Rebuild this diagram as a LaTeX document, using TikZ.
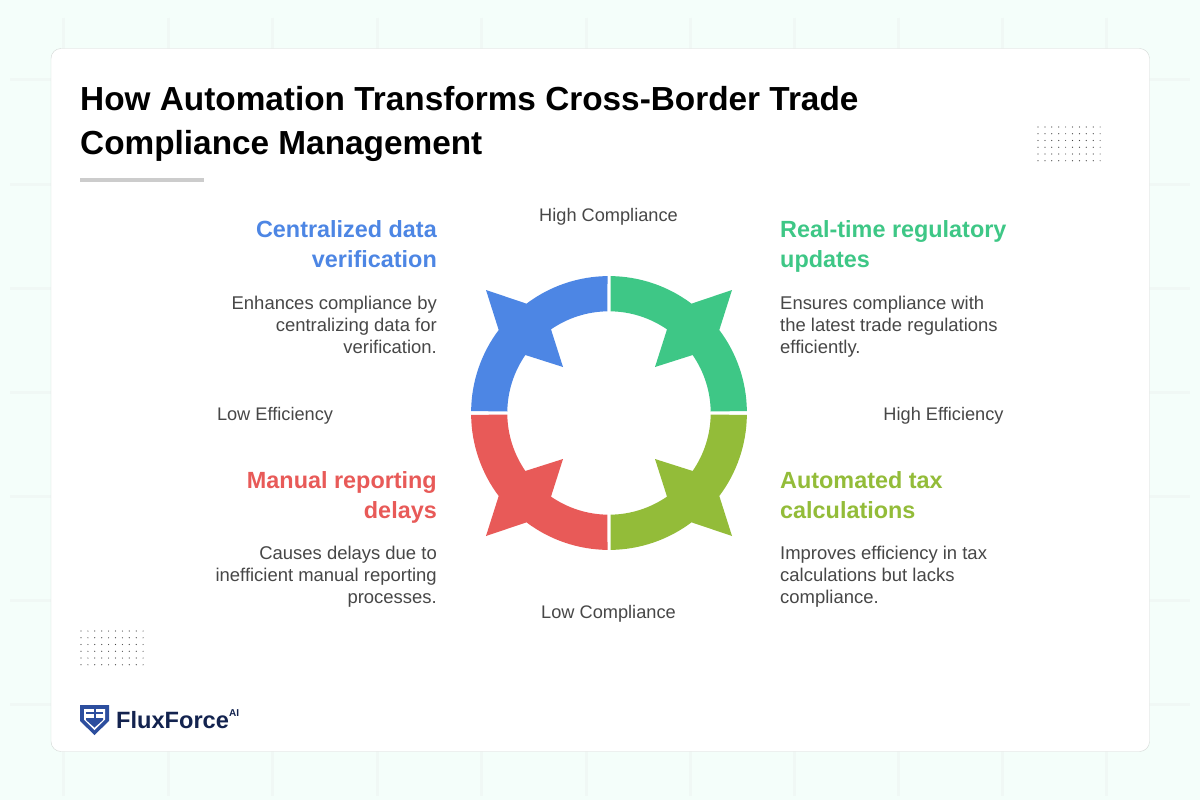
\documentclass[tikz,border=0pt]{standalone}
\usepackage{fontspec}
\setmainfont{Liberation Sans}
\definecolor{pagebg}{HTML}{F4FEFA}
\definecolor{gridline}{HTML}{F0F8F5}
\definecolor{cardline}{HTML}{D4D8D6}
\definecolor{rulegray}{HTML}{CCCCCC}
\definecolor{bodygray}{HTML}{474747}
\definecolor{dotgray}{HTML}{444444}
\definecolor{segblue}{HTML}{4D86E4}
\definecolor{seggreen}{HTML}{3EC786}
\definecolor{segolive}{HTML}{93BC39}
\definecolor{segred}{HTML}{E85A58}
\definecolor{logonavy}{HTML}{13234F}
\definecolor{logoblue}{HTML}{2C4E9E}
\tikzset{
    titletext/.style={anchor=north west, align=left, text=black, font=\fontsize{33.35}{44}\selectfont\bfseries},
    headtext/.style={font=\fontsize{23.4}{29.5}\selectfont\bfseries},
    bodytext/.style={text=bodygray, font=\fontsize{18.45}{22}\selectfont},
    axistext/.style={text=bodygray, font=\fontsize{18.2}{22}\selectfont},
    leftside/.style={anchor=north east, align=right, inner sep=0pt},
    rightside/.style={anchor=north west, align=left, inner sep=0pt},
}
% one arm of the ring, drawn for the upper right and mirrored for the others
\newcommand{\ringarm}[3]{
    \begin{scope}[shift={(609,413)}, xscale=#1, yscale=#2]
        \fill[#3] (1.5,136.9) arc[start angle=89.4, end angle=53, radius=137]
            -- (123,123) -- (110.3,83)
            arc[start angle=37, end angle=0.6, radius=137]
            -- (101.7,1.5) arc[start angle=0.8, end angle=34.7, radius=101.7]
            -- (46,46) -- (58,83.6)
            arc[start angle=55.3, end angle=89.2, radius=101.7] -- cycle;
    \end{scope}
}
\newcommand{\dotpatch}[2]{
    \foreach \col in {0,...,9}
        \foreach \row in {0,...,5}
            \fill[dotgray] (#1+6.9*\col,#2+6.75*\row) circle (0.6);
}
\begin{document}
\begin{tikzpicture}[x=1pt,y=-1pt]
    \useasboundingbox (0,0) rectangle (1200,800);
    \fill[pagebg] (0,0) rectangle (1200,800);

    % faint grid behind the card
    \foreach \gx in {63,168,272,377,481,586,690,794,898,1002,1106}
        \draw[gridline, line width=3] (\gx,18) -- (\gx,796);
    \foreach \gy in {80,184,288,392,496,600,704}
        \draw[gridline, line width=3] (10,\gy) -- (1190,\gy);

    \draw[cardline, fill=white, rounded corners=10] (51,48.5) rectangle (1149.5,751.5);

    \node[titletext, inner sep=0pt] (title) at (80,86) {How Automation Transforms Cross-Border Trade\\Compliance Management};
    \fill[rulegray] (80,177.5) rectangle (204,181.5);

    \dotpatch{1038}{127}
    \dotpatch{81}{631}

    \ringarm{1}{-1}{seggreen}
    \ringarm{-1}{-1}{segblue}
    \ringarm{1}{1}{segolive}
    \ringarm{-1}{1}{segred}

    \node[axistext] (highcomp) at (608.5,216.5) {High Compliance};
    \node[axistext] (lowcomp)  at (608.5,614) {Low Compliance};
    \node[axistext] (loweff)   at (275,415.5) {Low Efficiency};
    \node[axistext] (higheff)  at (943.5,415.5) {High Efficiency};

    \node[headtext, leftside, text=segblue] (headblue) at (437,220.5) {Centralized data\\verification};
    \node[bodytext, leftside] (bodyblue) at (437,296) {Enhances compliance by\\centralizing data for\\verification.};

    \node[headtext, rightside, text=seggreen] (headgreen) at (780,220.5) {Real-time regulatory\\updates};
    \node[bodytext, rightside] (bodygreen) at (780,296) {Ensures compliance with\\the latest trade regulations\\efficiently.};

    \node[headtext, leftside, text=segred] (headred) at (437,471.5) {Manual reporting\\delays};
    \node[bodytext, leftside] (bodyred) at (437,546) {Causes delays due to\\inefficient manual reporting\\processes.};

    \node[headtext, rightside, text=segolive] (headolive) at (780,471.5) {Automated tax\\calculations};
    \node[bodytext, rightside] (bodyolive) at (780,546) {Improves efficiency in tax\\calculations but lacks\\compliance.};

    % logo
    \fill[logoblue] (80,705) -- (109,705) -- (109,721) -- (94.5,735) -- (80,721) -- cycle;
    \fill[white] (84,709) -- (105,709) -- (105,719.5) -- (94.5,730) -- (84,719.5) -- cycle;
    \fill[logoblue] (86,712) rectangle (103,714);
    \fill[logoblue] (86,718) -- (103,718) -- (103,720) -- (94.5,727.5) -- (86,720) -- cycle;
    \fill[logoblue] (93.5,709) rectangle (95.5,719);
    \node[anchor=base west, inner sep=0pt, text=logonavy, font=\fontsize{23.6}{26}\selectfont\bfseries] (logoname) at (116,728) {FluxForce};
    \node[anchor=base west, inner sep=0pt, text=logonavy, font=\fontsize{10}{11}\selectfont\bfseries] (logoai) at (229,716.5) {AI};
\end{tikzpicture}
\end{document}
